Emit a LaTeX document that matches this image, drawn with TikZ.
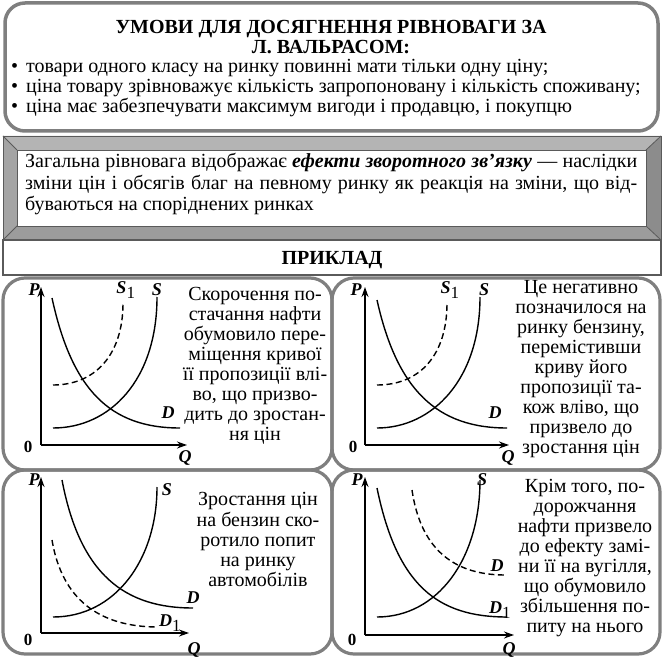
\documentclass[tikz,border=0pt]{standalone}
\usepackage{fontspec}
\setmainfont{Liberation Serif}
\usetikzlibrary{arrows.meta}
\definecolor{framegray}{HTML}{7F7F7F}
\definecolor{bevtop}{HTML}{B4B4B4}
\definecolor{bevleft}{HTML}{A4A4A4}
\definecolor{bevright}{HTML}{8C8C8C}
\definecolor{bevbot}{HTML}{9C9C9C}
\definecolor{bevline}{HTML}{5A5A5A}
\tikzset{
  panel/.style={draw=framegray, line width=3.2pt, rounded corners=22pt},
  ptxt/.style={inner sep=0pt, anchor=north, align=center, font=\fontsize{20}{20}\selectfont},
  ltxt/.style={inner sep=0pt, anchor=base west, font=\fontsize{20}{20}\selectfont},
  ttl/.style={inner sep=0pt, anchor=base, font=\fontsize{20}{20}\selectfont\bfseries},
  curve/.style={line width=1.4pt},
  dcurve/.style={line width=1.4pt, dash pattern=on 6pt off 3.5pt},
  axis/.style={line width=1.4pt, -{Stealth[length=10pt,width=7pt]}},
  lab/.style={inner sep=0pt, font=\fontsize{18}{18}\selectfont\bfseries\itshape},
  zero/.style={inner sep=0pt, font=\fontsize{17}{17}\selectfont\bfseries},
}
\newcommand{\subone}{\textsubscript{\normalfont\fontsize{17}{17}\selectfont 1}}
\begin{document}
\begin{tikzpicture}[x=1pt,y=-1pt]
\useasboundingbox (0,0) rectangle (664,663);
\fill[white] (0,0) rectangle (664,663);

% top box
\draw[framegray, line width=3.5pt, rounded corners=20pt] (5,3) rectangle (658,131);
\node[ttl] (t1) at (331,34) {УМОВИ ДЛЯ ДОСЯГНЕННЯ РІВНОВАГИ ЗА};
\node[ttl] (t2) at (331,54) {Л. ВАЛЬРАСОМ:};
\node[ltxt] (b1) at (11,73) {\textbullet\hspace{8pt}товари одного класу на ринку повинні мати тільки одну ціну;};
\node[ltxt] (b2) at (11,93) {\textbullet\hspace{8pt}ціна товару зрівноважує кількість запропоновану і кількість споживану;};
\node[ltxt] (b3) at (11,113) {\textbullet\hspace{8pt}ціна має забезпечувати максимум вигоди і продавцю, і покупцю};

% bevel frame
\fill[bevtop] (3,136) -- (661,136) -- (646,150) -- (17,150) -- cycle;
\fill[bevright] (661,136) -- (661,240) -- (646,226) -- (646,150) -- cycle;
\fill[bevbot] (3,240) -- (661,240) -- (646,226) -- (17,226) -- cycle;
\fill[bevleft] (3,136) -- (3,240) -- (17,226) -- (17,150) -- cycle;
\draw[bevline, line width=0.8pt] (3,136) rectangle (661,240);
\draw[bevline, line width=0.8pt, fill=white] (17,150) rectangle (646,226);
\draw[bevline, line width=0.8pt] (3,136) -- (17,150) (661,136) -- (646,150) (3,240) -- (17,226) (661,240) -- (646,226);
\node[ltxt] (g1) at (25,168) {\makebox[612pt][s]{Загальна рівновага відображає \textbf{\textit{ефекти зворотного зв’язку}} — наслідки}};
\node[ltxt] (g2) at (25,190) {\makebox[612pt][s]{зміни цін і обсягів благ на певному ринку як реакція на зміни, що від-}};
\node[ltxt] (g3) at (25,211) {буваються на споріднених ринках};

% example box
\draw[bevline, line width=1.5pt, fill=white] (3,240) rectangle (661,275);
\node[ttl] (ex) at (332,265) {ПРИКЛАД};

% panels
\draw[panel] (3,278) rectangle (332,470);
\draw[panel] (332,278) rectangle (660,470);
\draw[panel] (3,470) rectangle (332,654);
\draw[panel] (332,470) rectangle (660,654);

% ---------- panel TL
\coordinate (o1) at (41,445); \coordinate (p1) at (41,287); \coordinate (q1) at (187,445);
\draw[axis] (o1) -- (p1);
\draw[axis] (o1) -- (q1);
\draw[curve] (52,298) .. controls (72,390) and (110,428) .. (180,428);
\draw[curve] (53,428) .. controls (110,428) and (157,380) .. (157,297);
\draw[dcurve] (53,385) .. controls (95,385) and (123,355) .. (123,303);
\node[lab] (P1) at (34,290) {P};
\node[lab] (S11) at (126,290) {S\subone};
\node[lab] (S1) at (157,290) {S};
\node[lab] (D1l) at (168,413) {D};
\node[zero] (z1) at (28,447) {0};
\node[lab] (Q1) at (185,458) {Q};
\node[ptxt] (tx1) at (255,286) {\strut Скорочення по-\\стачання нафти\\обумовило пере-\\міщення кривої\\її пропозиції влі-\\во, що призво-\\дить до зростан-\\ня цін};

% ---------- panel TR
\coordinate (o2) at (365,445); \coordinate (p2) at (365,287); \coordinate (q2) at (509,445);
\draw[axis] (o2) -- (p2);
\draw[axis] (o2) -- (q2);
\draw[curve] (377,300) .. controls (397,390) and (437,428) .. (507,428);
\draw[curve] (377,428) .. controls (432,428) and (480,380) .. (480,297);
\draw[dcurve] (377,385) .. controls (420,385) and (447,355) .. (447,303);
\node[lab] (P2) at (356,290) {P};
\node[lab] (S12) at (450,290) {S\subone};
\node[lab] (S2) at (484,290) {S};
\node[lab] (D2l) at (495,413) {D};
\node[zero] (z2) at (353,447) {0};
\node[lab] (Q2) at (508,458) {Q};
\node[ptxt] (tx2) at (581,279) {\strut Це негативно\\позначилося на\\ринку бензину,\\перемістивши\\криву його\\пропозиції та-\\кож вліво, що\\призвело до\\зростання цін};

% ---------- panel BL
\coordinate (o3) at (41,633); \coordinate (p3) at (41,477); \coordinate (q3) at (189,633);
\draw[axis] (o3) -- (p3);
\draw[axis] (o3) -- (q3);
\draw[curve] (62,480) .. controls (80,575) and (125,608) .. (193,608);
\draw[curve] (53,617) .. controls (115,617) and (157,560) .. (157,487);
\draw[dcurve] (52,540) .. controls (62,600) and (100,627) .. (158,627);
\node[lab] (P3) at (34,480) {P};
\node[lab] (S3) at (167,490) {S};
\node[lab] (D3l) at (193,598) {D};
\node[lab] (D13) at (170,623) {D\subone};
\node[zero] (z3) at (28,640) {0};
\node[lab] (Q3) at (194,650) {Q};
\node[ptxt] (tx3) at (258,491) {\strut Зростання цін\\на бензин ско-\\ротило попит\\на ринку\\автомобілів};

% ---------- panel BR
\coordinate (o4) at (365,635); \coordinate (p4) at (365,477); \coordinate (q4) at (514,635);
\draw[axis] (o4) -- (p4);
\draw[axis] (o4) -- (q4);
\draw[curve] (377,488) .. controls (397,585) and (437,617) .. (507,617);
\draw[curve] (377,617) .. controls (437,617) and (480,560) .. (480,480);
\draw[dcurve] (412,490) .. controls (420,545) and (450,575) .. (505,575);
\node[lab] (P4) at (357,480) {P};
\node[lab] (S4) at (482,480) {S};
\node[lab] (D4l) at (497,566) {D};
\node[lab] (D14) at (500,610) {D\subone};
\node[zero] (z4) at (352,640) {0};
\node[lab] (Q4) at (509,650) {Q};
\node[ptxt] (tx4) at (585,478) {\strut Крім того, по-\\дорожчання\\нафти призвело\\до ефекту замі-\\ни її на вугілля,\\що обумовило\\збільшення по-\\питу на нього};
\end{tikzpicture}
\end{document}
